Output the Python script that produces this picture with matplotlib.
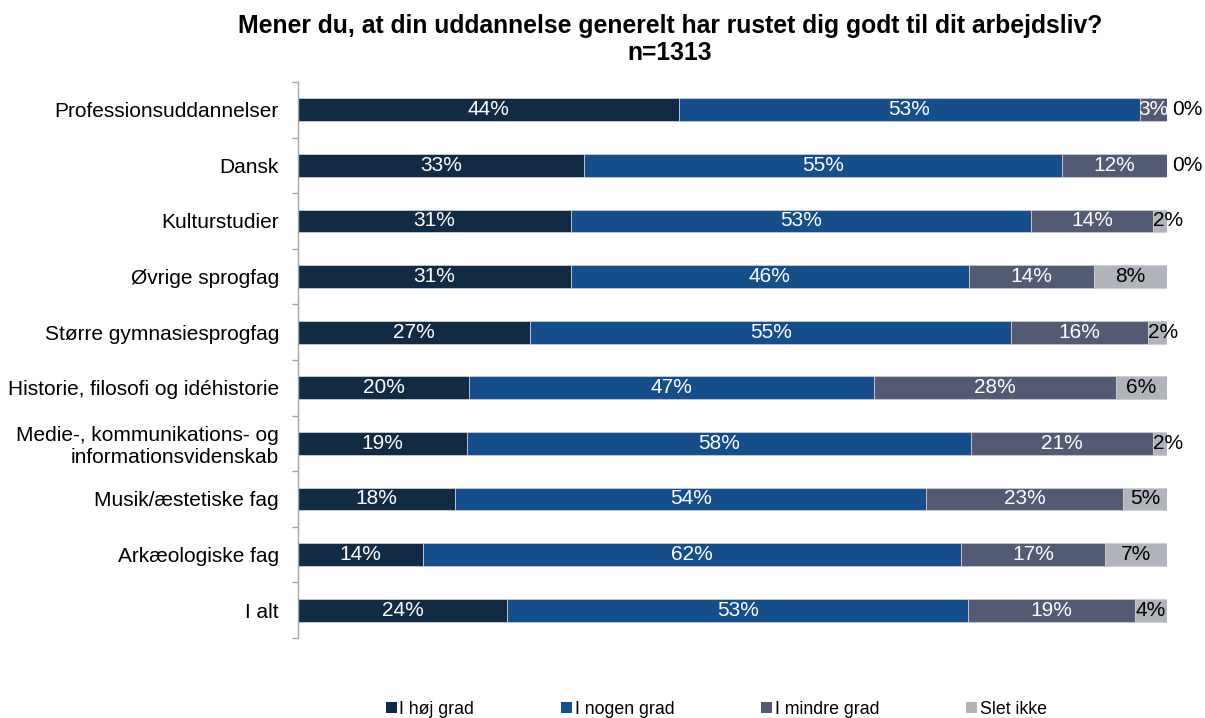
import numpy as np
import matplotlib.pyplot as plt
from matplotlib.patches import Patch

plt.rcParams['font.family'] = ['Liberation Sans', 'DejaVu Sans']

categories = ['Professionsuddannelser', 'Dansk', 'Kulturstudier', 'Øvrige sprogfag',
              'Større gymnasiesprogfag', 'Historie, filosofi og idéhistorie',
              'Medie-, kommunikations- og\ninformationsvidenskab', 'Musik/æstetiske fag',
              'Arkæologiske fag', 'I alt']
series_names = ['I høj grad', 'I nogen grad', 'I mindre grad', 'Slet ikke']
hoj = [43.8, 32.9, 31.4, 31.4, 26.7, 19.7, 19.4, 18.1, 14.4, 24.1]
nogen = [53.1, 55.0, 52.9, 45.8, 55.4, 46.6, 58.1, 54.2, 61.9, 53.0]
mindre = [3.1, 12.1, 14.1, 14.4, 15.7, 27.8, 20.9, 22.6, 16.6, 19.2]
slet = [0.0, 0.0, 1.6, 8.4, 2.2, 5.9, 1.6, 5.1, 7.1, 3.7]

colors = ['#122b45', '#144f8b', '#535a74', '#b2b4bc']
text_colors = ['white', 'white', 'white', 'black']

fig = plt.figure(figsize=(12.05, 7.18), dpi=100)
ax = fig.add_axes([298 / 1205, 1 - 638 / 718, 869 / 1205, 556 / 718])

y = np.arange(len(categories))
left = np.zeros(len(categories))
for k, vals in enumerate([hoj, nogen, mindre, slet]):
    vals = np.asarray(vals)
    ax.barh(y, vals, left=left, height=0.41, color=colors[k], edgecolor='#c9ccd3',
            linewidth=0.6, label=series_names[k])
    for i, v in enumerate(vals):
        lab = f'{round(v):.0f}%'
        if k == 3 and v == 0:
            ax.text(left[i] + 0.6, i, lab, ha='left', va='center', fontsize=15, color='black')
        elif k == 3 and v < 3:
            ax.text(left[i], i, lab, ha='left', va='center', fontsize=15, color='black')
        else:
            ax.text(left[i] + v / 2, i, lab, ha='center', va='center', fontsize=15,
                    color=text_colors[k])
    left += vals

ax.set_xlim(0, 100)
ax.set_ylim(9.5, -0.5)
ax.set_yticks(y)
ax.set_yticklabels(categories, fontsize=15)
for t in ax.get_yticklabels():
    t.set_linespacing(1.15)
ax.set_yticks(np.arange(-0.5, 10, 1), minor=True)
ax.tick_params(axis='y', which='major', length=0, pad=13.7)
ax.tick_params(axis='y', which='minor', length=4.5, width=1, color='#a6a6a6')
ax.xaxis.set_visible(False)
for s in ['top', 'right', 'bottom']:
    ax.spines[s].set_visible(False)
ax.spines['left'].set_color('#a6a6a6')
ax.spines['left'].set_linewidth(1)

fig.text(670 / 1205, 1 - 26 / 718,
         'Mener du, at din uddannelse generelt har rustet dig godt til dit arbejdsliv?',
         ha='center', va='center', fontsize=17.8, fontweight='bold')
fig.text(670 / 1205, 1 - 53 / 718, 'n=1313', ha='center', va='center',
         fontsize=17.8, fontweight='bold')

handles = [Patch(facecolor=c, edgecolor='none') for c in colors]
fig.legend(handles, series_names, loc='center left', bbox_to_anchor=(386 / 1205, 1 - 709 / 718),
           ncol=4, frameon=False, fontsize=12.8, handlelength=0.6, handleheight=0.6,
           handletextpad=0.15, columnspacing=4.9, borderpad=0, borderaxespad=0)

fig.savefig('out.png', dpi=100)
